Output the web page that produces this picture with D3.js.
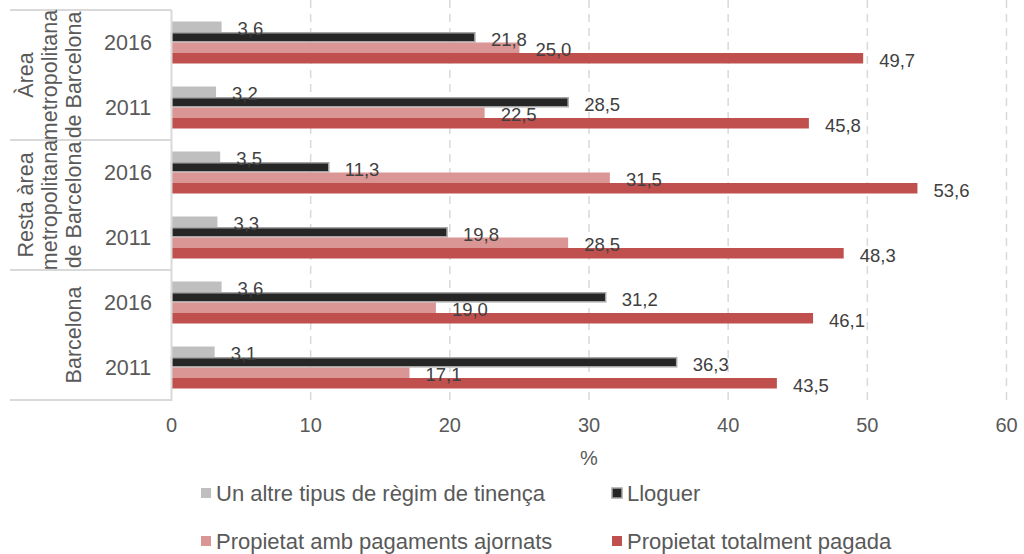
<!DOCTYPE html>
<html>
<head>
<meta charset="utf-8">
<script src="https://cdn.jsdelivr.net/npm/d3@7"></script>
<style>
  html, body { margin: 0; padding: 0; background: #fff; }
  svg { display: block; font-family: "Liberation Sans", Arial, sans-serif; }
</style>
</head>
<body>
<svg id="chart" width="1024" height="554"></svg>
<script>
// ---- data ----
const groups = [
  ["Àrea", "metropolitana", "de Barcelona"],
  ["Resta àrea", "metropolitana", "de Barcelona"],
  ["Barcelona"]
];
const years = ["2016", "2011"];
const seriesNames = [
  "Un altre tipus de règim de tinença",
  "Lloguer",
  "Propietat amb pagaments ajornats",
  "Propietat totalment pagada"
];
// rows top to bottom: group0-2016, group0-2011, group1-2016, ...
const altre     = [3.6, 3.2, 3.5, 3.3, 3.6, 3.1];
const lloguer   = [21.8, 28.5, 11.3, 19.8, 31.2, 36.3];
const ajornats  = [25.0, 22.5, 31.5, 28.5, 19.0, 17.1];
const pagada    = [49.7, 45.8, 53.6, 48.3, 46.1, 43.5];
const xTicks = [0, 10, 20, 30, 40, 50, 60];
const axisTitle = "%";

// ---- styles ----
const colors = ["#bfbfbf", "#262626", "#d99694", "#c0504d"];
const seriesValues = [altre, lloguer, ajornats, pagada];

const svg = d3.select("#chart");
const plotTop = 10, plotBottom = 400, plotLeft = 171.5, plotRight = 1006.5;

const rows = d3.range(6);
const x = d3.scaleLinear().domain([0, 60]).range([plotLeft, plotRight]);
const y0 = d3.scaleBand().domain(rows).range([plotTop, plotBottom]);
const y1 = d3.scaleBand().domain(d3.range(4)).range([0, y0.bandwidth()]).paddingInner(0).paddingOuter(1.095);

// gridlines
svg.append("g").selectAll("line").data(xTicks.slice(1)).join("line")
  .attr("x1", d => x(d)).attr("x2", d => x(d))
  .attr("y1", 0).attr("y2", plotBottom)
  .attr("stroke", "#d9d9d9").attr("stroke-width", 1.5)
  .attr("stroke-dasharray", "8,6");

// bars
const rowG = svg.append("g").selectAll("g").data(rows).join("g")
  .attr("transform", r => `translate(0,${y0(r)})`);

rowG.selectAll("rect").data(r => seriesValues.map((vals, s) => ({s, v: vals[r]}))).join("rect")
  .attr("x", x(0))
  .attr("y", d => y1(d.s) + (d.s === 1 ? 0.75 : 0))
  .attr("width", d => x(d.v) - x(0))
  .attr("height", d => y1.bandwidth() - (d.s === 1 ? 1.5 : 0))
  .attr("fill", d => colors[d.s])
  .attr("stroke", d => d.s === 1 ? "#a6a6a6" : "none")
  .attr("stroke-width", 1.5);

rowG.selectAll("text").data(r => seriesValues.map((vals, s) => ({s, v: vals[r]}))).join("text")
  .attr("x", d => x(d.v) + 16)
  .attr("y", d => y1(d.s) + y1.bandwidth() / 2 + 2)
  .attr("dy", "0.35em")
  .attr("font-size", 18.5)
  .attr("fill", "#404040")
  .text(d => d3.format(".1f")(d.v).replace(".", ","));

// category axis frame
const frame = svg.append("g").attr("stroke", "#d9d9d9").attr("stroke-width", 2);
frame.append("line").attr("x1", plotLeft).attr("x2", plotLeft).attr("y1", plotTop).attr("y2", plotBottom + 1);
const sepYs = [0, 2, 4].map(r => y0(r)).concat([plotBottom]);
frame.selectAll("line.sep").data(sepYs).join("line").attr("class", "sep")
  .attr("x1", 10).attr("x2", plotLeft).attr("y1", d => d).attr("y2", d => d);

// year labels
svg.append("g").selectAll("text").data(rows).join("text")
  .attr("x", 128).attr("y", r => y0(r) + y0.bandwidth() / 2)
  .attr("dy", "0.35em").attr("text-anchor", "middle")
  .attr("font-size", 21.5).attr("fill", "#595959")
  .text(r => years[r % 2]);

// group labels (rotated)
groups.forEach((lines, g) => {
  const cy = (y0(g * 2) + y0(g * 2 + 1) + y0.bandwidth()) / 2;
  const t = svg.append("text")
    .attr("transform", `translate(0,${cy}) rotate(-90)`)
    .attr("text-anchor", "middle").attr("font-size", 21.5).attr("fill", "#595959");
  lines.forEach((ln, i) => {
    const xx = 73 - 24 * (lines.length - 1 - i);
    t.append("tspan").attr("x", 0).attr("y", xx).attr("dy", "0.35em").text(ln);
  });
});

// x axis tick labels
svg.append("g").selectAll("text").data(xTicks).join("text")
  .attr("x", d => x(d)).attr("y", 425).attr("dy", "0.35em")
  .attr("text-anchor", "middle").attr("font-size", 20).attr("fill", "#595959")
  .text(d => d);

svg.append("text").attr("x", x(30)).attr("y", 458).attr("dy", "0.35em")
  .attr("text-anchor", "middle").attr("font-size", 20).attr("fill", "#595959")
  .text(axisTitle);

// legend
const legPos = [[201, 493], [612, 493], [201, 541], [612, 541]];
const leg = svg.append("g").selectAll("g").data(seriesNames).join("g")
  .attr("transform", (d, i) => `translate(${legPos[i][0]},${legPos[i][1]})`);
leg.append("rect").attr("x", 0).attr("y", -5).attr("width", 10).attr("height", 10)
  .attr("fill", (d, i) => colors[i])
  .attr("stroke", (d, i) => i === 1 ? "#a6a6a6" : "none").attr("stroke-width", 1.5);
leg.append("text").attr("x", 15).attr("y", 0).attr("dy", "0.35em")
  .attr("font-size", 22).attr("fill", "#595959").text(d => d);
</script>
</body>
</html>
